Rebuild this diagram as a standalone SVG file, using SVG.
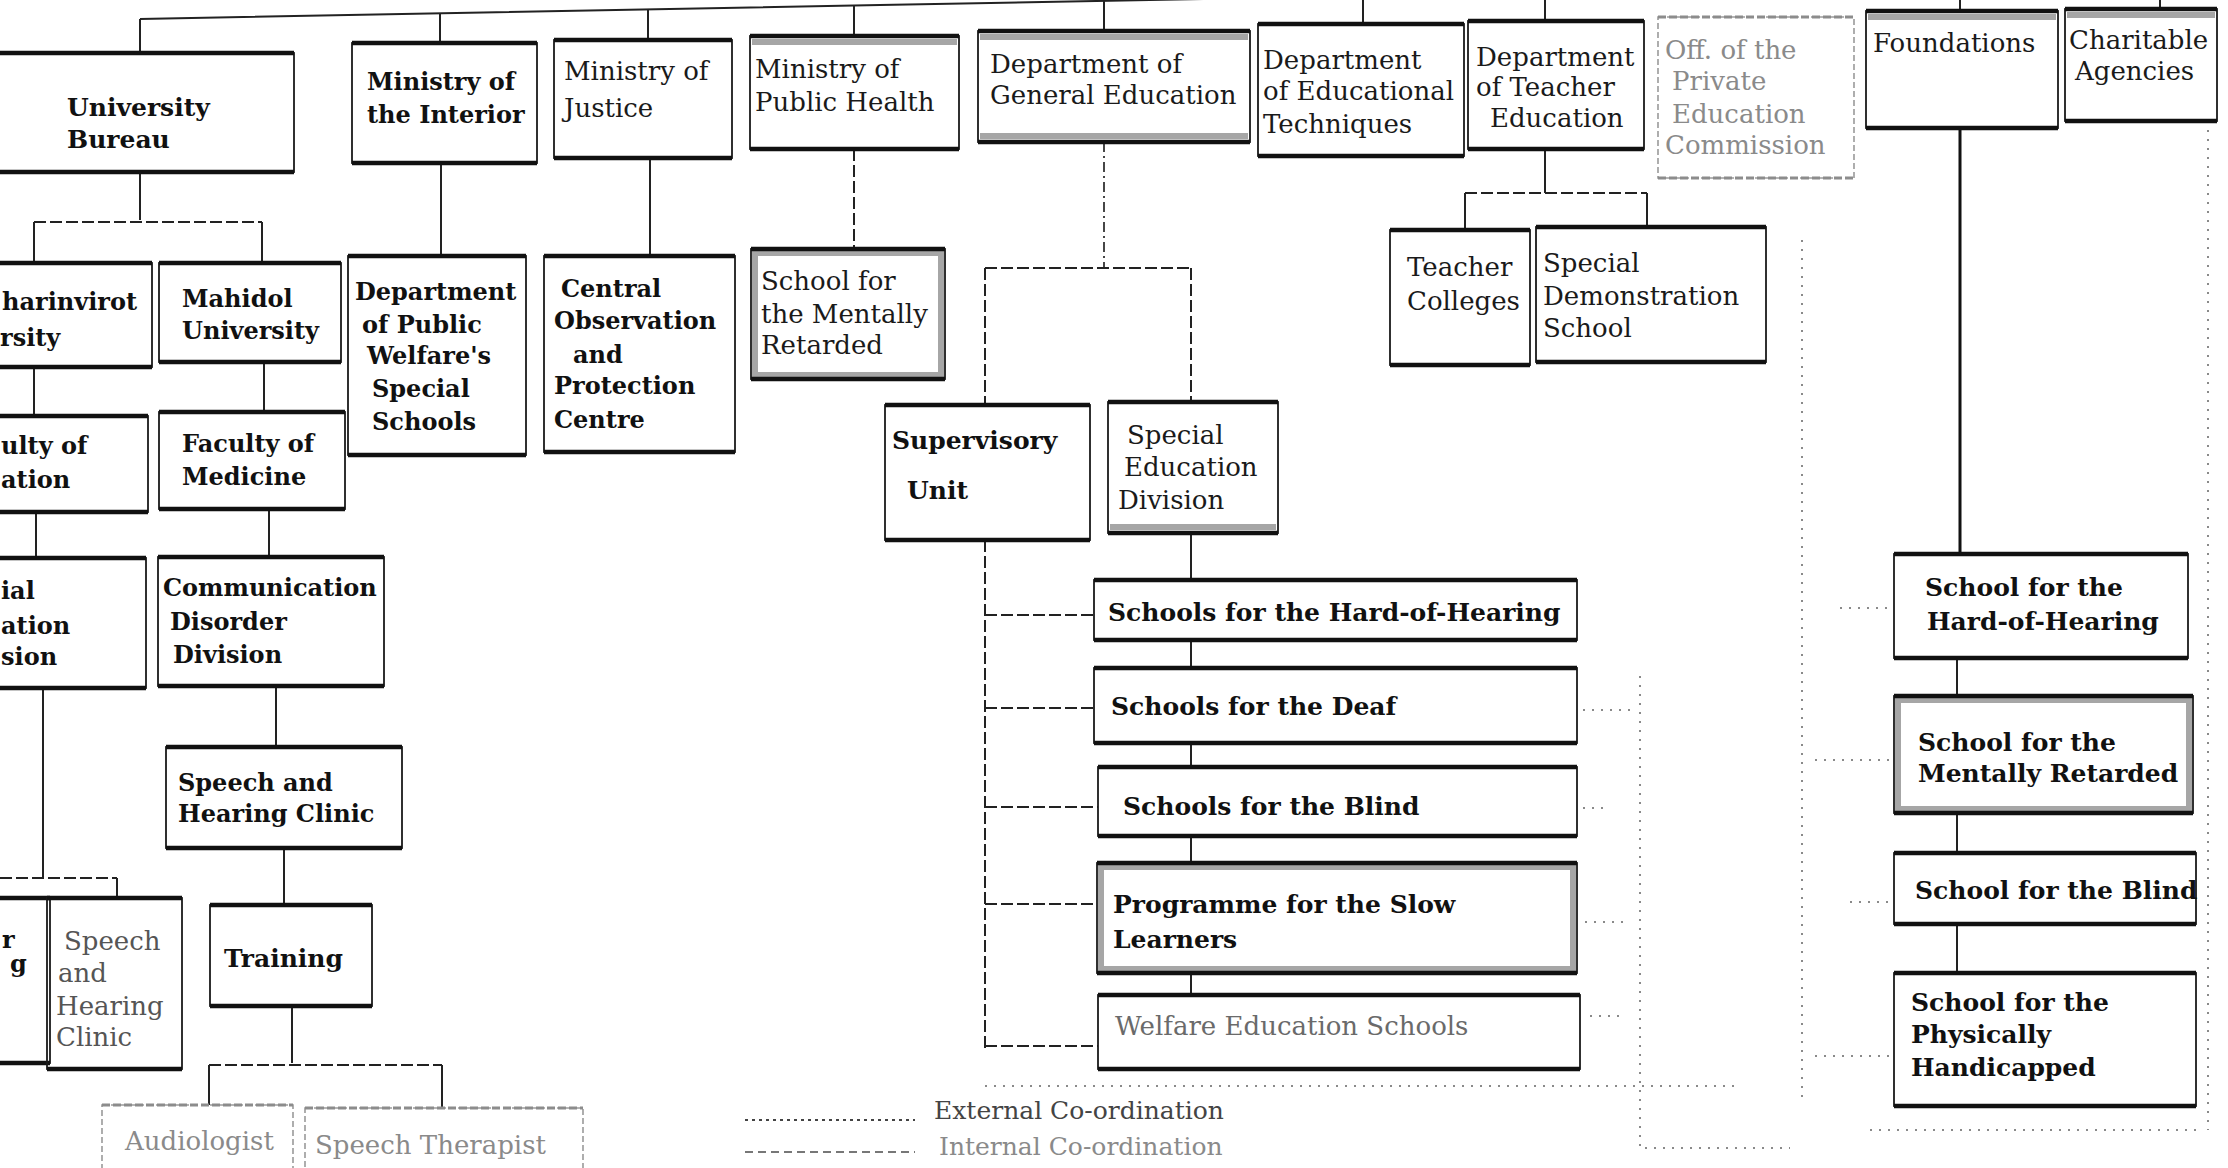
<svg xmlns="http://www.w3.org/2000/svg" width="2228" height="1168" viewBox="0 0 2228 1168">
<defs>
<style>
.bg{fill:#ffffff}
.b{fill:none;stroke:#1a1a1a;stroke-width:1.8}
.bf{fill:none;stroke:#9a9a9a;stroke-width:1.6;stroke-dasharray:6 3}
.tk{fill:none;stroke:#111;stroke-width:4.5}
.tkf{fill:none;stroke:#8c8c8c;stroke-width:3;stroke-dasharray:8 3}
.gy{fill:none;stroke:#a6a6a6;stroke-width:6}
.t{font-family:"DejaVu Serif","Liberation Serif",serif;font-size:26px;fill:#1a1a1a}
.tb{font-family:"DejaVu Serif","Liberation Serif",serif;font-size:24px;font-weight:bold;fill:#111}
.ts{font-size:25px}
.f{fill:#8a8a8a}
.c{fill:none;stroke:#222;stroke-width:2}
.cd{fill:none;stroke:#222;stroke-width:2;stroke-dasharray:12 4}
.cdd{fill:none;stroke:#333;stroke-width:1.8;stroke-dasharray:10 4 2 4}
.ct{fill:none;stroke:#111;stroke-width:3}
.dt{fill:none;stroke:#8a8a8a;stroke-width:2;stroke-dasharray:2 7}
</style>
</defs>
<rect class="bg" x="0" y="0" width="2228" height="1168"/>

<g id="connectors">
<path class="c" d="M140,19 L880,5 L2228,-20"/>
<path class="c" d="M140,19 V53 M440,13 V43 M648,9 V40 M854,5 V36 M1104,0 V31 M1363,0 V24 M1545,0 V21 M1960,0 V11 M2160,0 V9"/>
<path class="c" d="M140,172 V220 M34,222 V263 M262,222 V263"/>
<path class="cd" d="M34,222 H262"/>
<path class="c" d="M34,367 V416 M264,362 V412"/>
<path class="c" d="M441,163 V256 M650,158 V256"/>
<path class="cd" d="M854,149 V249"/>
<path class="cdd" d="M1104,142 V268"/>
<path class="cd" d="M985,268 H1191 M985,268 V405 M1191,268 V402"/>
<path class="cd" d="M985,540 V1048"/>
<path class="cd" d="M985,615 H1094 M985,708 H1094 M985,807 H1098 M985,904 H1097 M985,1046 H1098"/>
<path class="c" d="M1191,533 V580 M1191,640 V668 M1191,743 V767 M1191,836 V863 M1191,973 V995"/>
<path class="c" d="M1545,149 V193 M1465,193 V230 M1647,193 V227"/>
<path class="cd" d="M1465,193 H1647"/>
<path class="c" d="M36,512 V558 M269,509 V557"/>
<path class="c" d="M43,688 V878 M117,878 V898"/>
<path class="cd" d="M0,878 H117"/>
<path class="c" d="M276,686 V747 M284,848 V905 M292,1006 V1063"/>
<path class="cd" d="M209,1065 H442"/>
<path class="c" d="M209,1065 V1105 M442,1065 V1108"/>
<path class="ct" d="M1960,128 V554"/>
<path class="c" d="M1957,658 V696 M1957,813 V853 M1957,924 V973"/>
<path class="dt" d="M2208,121 V1130"/>
<path class="dt" d="M1583,710 H1630 M1583,808 H1605 M1585,922 H1625 M1590,1016 H1625"/>
<path class="dt" d="M1640,676 V1148 H1790"/>
<path class="dt" d="M985,1086 H1740"/>
<path class="dt" d="M1802,240 V1100"/>
<path class="dt" d="M1840,608 H1892 M1815,760 H1892 M1850,902 H1892 M1815,1056 H1892"/>
<path class="dt" d="M1870,1130 H2200"/>
</g>

<g id="n-university-bureau"><rect class="b" x="-4" y="53" width="298" height="119"/><path class="tk" d="M-4,53 h298 M-4,172 h298"/>
<text class="tb ts" x="67" y="116">University</text><text class="tb ts" x="67" y="148">Bureau</text></g>
<g id="n-interior"><rect class="b" x="352" y="43" width="185" height="120"/><path class="tk" d="M352,43 h185 M352,163 h185"/>
<text class="tb" x="367" y="90">Ministry of</text><text class="tb" x="367" y="123">the Interior</text></g>
<g id="n-justice"><rect class="b" x="554" y="40" width="178" height="118"/><path class="tk" d="M554,40 h178 M554,158 h178"/>
<text class="t" x="564" y="80">Ministry of</text><text class="t" x="564" y="117">Justice</text></g>
<g id="n-public-health"><rect class="b" x="750" y="36" width="209" height="113"/><path class="tk" d="M750,36 h209 M750,149 h209"/><path class="gy" d="M752,42 h205"/>
<text class="t" x="755" y="78">Ministry of</text><text class="t" x="755" y="111">Public Health</text></g>
<g id="n-general-education"><rect class="b" x="978" y="31" width="272" height="111"/><path class="tk" d="M978,31 h272 M978,142 h272"/><path class="gy" d="M980,37 h268 M980,136 h268"/>
<text class="t" x="990" y="73">Department of</text><text class="t" x="990" y="104">General Education</text></g>
<g id="n-educational-techniques"><rect class="b" x="1258" y="24" width="206" height="132"/><path class="tk" d="M1258,24 h206 M1258,156 h206"/>
<text class="t" x="1263" y="69">Department</text><text class="t" x="1263" y="100">of Educational</text><text class="t" x="1263" y="133">Techniques</text></g>
<g id="n-teacher-education"><rect class="b" x="1468" y="21" width="176" height="128"/><path class="tk" d="M1468,21 h176 M1468,149 h176"/>
<text class="t" x="1476" y="66">Department</text><text class="t" x="1476" y="96">of Teacher</text><text class="t" x="1490" y="127">Education</text></g>
<g id="n-private-education"><rect class="bf" x="1658" y="17" width="196" height="161"/><path class="tkf" d="M1658,17 h196 M1658,178 h196"/>
<text class="t f" x="1665" y="59">Off. of the</text><text class="t f" x="1672" y="90">Private</text><text class="t f" x="1672" y="123">Education</text><text class="t f" x="1665" y="154">Commission</text></g>
<g id="n-foundations"><rect class="b" x="1866" y="11" width="192" height="117"/><path class="tk" d="M1866,11 h192 M1866,128 h192"/><path class="gy" d="M1868,17 h188"/>
<text class="t" x="1873" y="52">Foundations</text></g>
<g id="n-charitable"><rect class="b" x="2065" y="9" width="152" height="112"/><path class="tk" d="M2065,9 h152 M2065,121 h152"/><path class="gy" d="M2067,15 h148"/>
<text class="t" x="2069" y="49">Charitable</text><text class="t" x="2075" y="80">Agencies</text></g>

<g id="n-srinakharinvirot"><rect class="b" x="-4" y="263" width="156" height="104"/><path class="tk" d="M-4,263 h156 M-4,367 h156"/>
<text class="tb" x="2" y="310">harinvirot</text><text class="tb" x="0" y="346">rsity</text></g>
<g id="n-mahidol"><rect class="b" x="159" y="263" width="182" height="99"/><path class="tk" d="M159,263 h182 M159,362 h182"/>
<text class="tb" x="182" y="307">Mahidol</text><text class="tb" x="182" y="339">University</text></g>
<g id="n-public-welfare"><rect class="b" x="348" y="256" width="178" height="199"/><path class="tk" d="M348,256 h178 M348,455 h178"/>
<text class="tb" x="355" y="300">Department</text><text class="tb" x="362" y="333">of Public</text><text class="tb" x="367" y="364">Welfare's</text><text class="tb" x="372" y="397">Special</text><text class="tb" x="372" y="430">Schools</text></g>
<g id="n-central-observation"><rect class="b" x="544" y="256" width="191" height="196"/><path class="tk" d="M544,256 h191 M544,452 h191"/>
<text class="tb" x="561" y="297">Central</text><text class="tb" x="554" y="329">Observation</text><text class="tb" x="573" y="363">and</text><text class="tb" x="554" y="394">Protection</text><text class="tb" x="554" y="428">Centre</text></g>
<g id="n-school-mr-health"><rect class="b" x="751" y="249" width="194" height="130"/><rect class="gy" x="755" y="253" width="186" height="122"/><path class="tk" d="M751,249 h194 M751,379 h194"/>
<text class="t" x="761" y="290">School for</text><text class="t" x="761" y="323">the Mentally</text><text class="t" x="761" y="354">Retarded</text></g>
<g id="n-teacher-colleges"><rect class="b" x="1390" y="230" width="140" height="135"/><path class="tk" d="M1390,230 h140 M1390,365 h140"/>
<text class="t" x="1407" y="276">Teacher</text><text class="t" x="1407" y="310">Colleges</text></g>
<g id="n-special-demonstration"><rect class="b" x="1536" y="227" width="230" height="135"/><path class="tk" d="M1536,227 h230 M1536,362 h230"/>
<text class="t" x="1543" y="272">Special</text><text class="t" x="1543" y="305">Demonstration</text><text class="t" x="1543" y="337">School</text></g>

<g id="n-faculty-education"><rect class="b" x="-4" y="416" width="152" height="96"/><path class="tk" d="M-4,416 h152 M-4,512 h152"/>
<text class="tb" x="1" y="454">ulty of</text><text class="tb" x="1" y="488">ation</text></g>
<g id="n-faculty-medicine"><rect class="b" x="159" y="412" width="186" height="97"/><path class="tk" d="M159,412 h186 M159,509 h186"/>
<text class="tb" x="182" y="452">Faculty of</text><text class="tb" x="182" y="485">Medicine</text></g>
<g id="n-supervisory"><rect class="b" x="885" y="405" width="205" height="135"/><path class="tk" d="M885,405 h205 M885,540 h205"/>
<text class="tb ts" x="892" y="449">Supervisory</text><text class="tb ts" x="907" y="499">Unit</text></g>
<g id="n-special-education-division"><rect class="b" x="1108" y="402" width="170" height="131"/><path class="tk" d="M1108,402 h170 M1108,533 h170"/><path class="gy" d="M1110,527 h166"/>
<text class="t" x="1127" y="444">Special</text><text class="t" x="1124" y="476">Education</text><text class="t" x="1118" y="509">Division</text></g>

<g id="n-sped-division-left"><rect class="b" x="-4" y="558" width="150" height="130"/><path class="tk" d="M-4,558 h150 M-4,688 h150"/>
<text class="tb" x="1" y="599">ial</text><text class="tb" x="1" y="634">ation</text><text class="tb" x="1" y="665">sion</text></g>
<g id="n-communication-disorder"><rect class="b" x="158" y="557" width="226" height="129"/><path class="tk" d="M158,557 h226 M158,686 h226"/>
<text class="tb" x="163" y="596">Communication</text><text class="tb" x="170" y="630">Disorder</text><text class="tb" x="173" y="663">Division</text></g>
<g id="n-speech-hearing-clinic"><rect class="b" x="166" y="747" width="236" height="101"/><path class="tk" d="M166,747 h236 M166,848 h236"/>
<text class="tb" x="178" y="791">Speech and</text><text class="tb" x="178" y="822">Hearing Clinic</text></g>

<g id="n-cut-left"><rect class="b" x="-4" y="898" width="54" height="165"/><path class="tk" d="M-4,898 h54 M-4,1063 h54"/>
<text class="tb" x="2" y="948">r</text><text class="tb" x="10" y="972">g</text></g>
<g id="n-speech-hearing-clinic-2"><rect class="b" x="47" y="898" width="135" height="171"/><path class="tk" d="M47,898 h135 M47,1069 h135"/>
<text class="t" x="64" y="950" style="fill:#555">Speech</text><text class="t" x="58" y="982" style="fill:#555">and</text><text class="t" x="56" y="1015" style="fill:#555">Hearing</text><text class="t" x="56" y="1046" style="fill:#555">Clinic</text></g>
<g id="n-training"><rect class="b" x="210" y="905" width="162" height="101"/><path class="tk" d="M210,905 h162 M210,1006 h162"/>
<text class="tb ts" x="224" y="967">Training</text></g>
<g id="n-audiologist"><rect class="bf" x="102" y="1105" width="191" height="80"/><path class="tkf" d="M102,1105 h191"/>
<text class="t f" x="125" y="1150">Audiologist</text></g>
<g id="n-speech-therapist"><rect class="bf" x="305" y="1108" width="278" height="80"/><path class="tkf" d="M305,1108 h278"/>
<text class="t f" x="315" y="1154">Speech Therapist</text></g>

<g id="n-schools-hoh"><rect class="b" x="1094" y="580" width="483" height="60"/><path class="tk" d="M1094,580 h483 M1094,640 h483"/>
<text class="tb ts" x="1108" y="621">Schools for the Hard-of-Hearing</text></g>
<g id="n-schools-deaf"><rect class="b" x="1094" y="668" width="483" height="75"/><path class="tk" d="M1094,668 h483 M1094,743 h483"/>
<text class="tb ts" x="1111" y="715">Schools for the Deaf</text></g>
<g id="n-schools-blind"><rect class="b" x="1098" y="767" width="479" height="69"/><path class="tk" d="M1098,767 h479 M1098,836 h479"/>
<text class="tb ts" x="1123" y="815">Schools for the Blind</text></g>
<g id="n-slow-learners"><rect class="b" x="1097" y="863" width="480" height="110"/><rect class="gy" x="1101" y="867" width="472" height="102"/><path class="tk" d="M1097,863 h480 M1097,973 h480"/>
<text class="tb ts" x="1113" y="913">Programme for the Slow</text><text class="tb ts" x="1113" y="948">Learners</text></g>
<g id="n-welfare-education"><rect class="b" x="1098" y="995" width="482" height="74"/><path class="tk" d="M1098,995 h482 M1098,1069 h482"/>
<text class="t" x="1115" y="1035" style="fill:#6a6a6a">Welfare Education Schools</text></g>

<g id="n-school-hoh"><rect class="b" x="1894" y="554" width="294" height="104"/><path class="tk" d="M1894,554 h294 M1894,658 h294"/>
<text class="tb ts" x="1925" y="596">School for the</text><text class="tb ts" x="1927" y="630">Hard-of-Hearing</text></g>
<g id="n-school-mr"><rect class="b" x="1894" y="696" width="299" height="117"/><rect class="gy" x="1898" y="700" width="291" height="109"/><path class="tk" d="M1894,696 h299 M1894,813 h299"/>
<text class="tb ts" x="1918" y="751">School for the</text><text class="tb ts" x="1918" y="782">Mentally Retarded</text></g>
<g id="n-school-blind"><rect class="b" x="1894" y="853" width="302" height="71"/><path class="tk" d="M1894,853 h302 M1894,924 h302"/>
<text class="tb ts" x="1915" y="899">School for the Blind</text></g>
<g id="n-school-physically"><rect class="b" x="1894" y="973" width="302" height="133"/><path class="tk" d="M1894,973 h302 M1894,1106 h302"/>
<text class="tb ts" x="1911" y="1011">School for the</text><text class="tb ts" x="1911" y="1043">Physically</text><text class="tb ts" x="1911" y="1076">Handicapped</text></g>

<g id="legend">
<path class="dt" d="M745,1120 H915" style="stroke:#444;stroke-dasharray:3 4"/>
<text class="t" x="934" y="1119" style="font-size:25px;fill:#444">External Co-ordination</text>
<path class="cd" d="M745,1152 H915" style="stroke:#777;stroke-dasharray:8 5"/>
<text class="t f" x="939" y="1155" style="font-size:25px">Internal Co-ordination</text>
</g>
</svg>
